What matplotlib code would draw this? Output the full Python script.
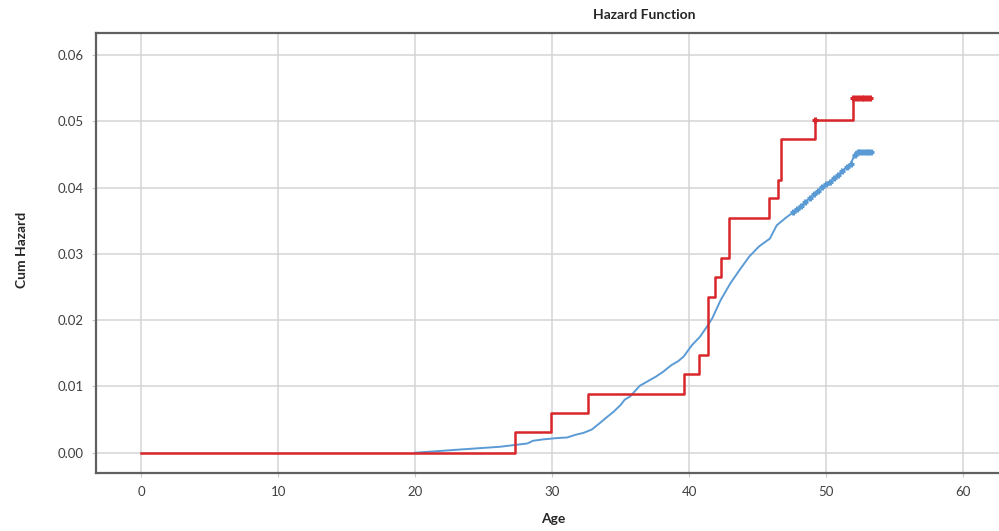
import numpy as np
import matplotlib.pyplot as plt

# cumulative hazard
red_age = [0, 27.3, 29.9, 32.6, 39.6, 40.7, 41.4, 41.9, 42.3, 42.9, 45.8, 46.5, 46.7, 49.2, 52.0, 53.3]
red_cum = [0, 0.0032, 0.0060, 0.0089, 0.0118, 0.0148, 0.0235, 0.0265, 0.0293, 0.0354,
           0.0384, 0.0411, 0.0473, 0.0502, 0.0535, 0.0535]

blue_age = [20.0, 23.4, 26.2, 28.2, 28.6, 29.3, 30.3, 31.1, 31.7, 32.3, 32.9, 33.5, 33.9, 34.5,
            35.0, 35.3, 35.7, 36.4, 37.0, 37.6, 38.1, 38.7, 39.2, 39.6, 40.2, 40.8, 41.3, 41.7,
            42.3, 43.0, 43.7, 44.4, 45.1, 45.9, 46.4, 47.1, 48.1, 48.8, 49.6, 50.3, 51.0, 51.8,
            52.2, 53.4]
blue_cum = [0, 0.0005, 0.0009, 0.0014, 0.0018, 0.0020, 0.0022, 0.0023, 0.0027, 0.0030, 0.0035,
            0.0045, 0.0052, 0.0062, 0.0072, 0.0080, 0.0085, 0.0101, 0.0108, 0.0115, 0.0122,
            0.0132, 0.0138, 0.0145, 0.0162, 0.0175, 0.0190, 0.0203, 0.0230, 0.0255, 0.0276,
            0.0296, 0.0311, 0.0323, 0.0343, 0.0355, 0.0370, 0.0384, 0.0399, 0.0409, 0.0421,
            0.0436, 0.0454, 0.0454]

# censored cases
red_cens = [49.2, 52.0, 52.2, 52.4, 52.6, 52.8, 53.0, 53.2]
blue_cens = [47.6, 47.9, 48.2, 48.5, 48.8, 49.1, 49.4, 49.7, 50.0, 50.3, 50.6, 50.9, 51.2, 51.5,
             51.8, 52.1, 52.3, 52.5, 52.7, 52.9, 53.1, 53.3]

x_ticks = [0, 10, 20, 30, 40, 50, 60]
y_ticks = [0.00, 0.01, 0.02, 0.03, 0.04, 0.05, 0.06]

red = '#d8262b'
blue = '#5b9bd5'
font = 'Lato'

fig = plt.figure(figsize=(9.99, 5.31), dpi=100)
ax = fig.add_axes([0.0961, 0.1092, 0.909, 0.8286])

# blue group has many tiny steps, drawn as a line through the read points
ax.plot(blue_age, blue_cum, color=blue, lw=1.4, zorder=3)
ax.plot(blue_cens, np.interp(blue_cens, blue_age, blue_cum), ls='none', marker='+',
        ms=5, mew=2.2, color=blue, zorder=3)

ax.plot(red_age, red_cum, drawstyle='steps-post', color=red, lw=1.8, zorder=4)
red_cens_y = np.array(red_cum)[np.searchsorted(red_age, red_cens, side='right') - 1]
ax.plot(red_cens, red_cens_y, ls='none', marker='+', ms=5, mew=2.2, color=red, zorder=4)

ax.set_xlim(-3.3, 63)
ax.set_ylim(-0.00306, 0.0633)
ax.set_xticks(x_ticks)
ax.set_yticks(y_ticks)
ax.set_xticklabels([str(v) for v in x_ticks], fontsize=9.5, color='#404040', family=font)
ax.set_yticklabels(['%.2f' % v for v in y_ticks], fontsize=9.5, color='#404040', family=font)
ax.tick_params(length=3, color='#c8c8c8', pad=6)
ax.grid(True, color='#d4d4d4', lw=1.1)
ax.set_axisbelow(True)
for s in ax.spines.values():
    s.set_color('#606060')
    s.set_linewidth(1.6)

fig.text(644 / 999, 1 - 15 / 531, 'Hazard Function', ha='center', va='center',
         fontsize=10, fontweight='bold', color='#262626', family=font)
fig.text(22 / 999, 1 - 250 / 531, 'Cum Hazard', ha='center', va='center', rotation=90,
         fontsize=10, fontweight='bold', color='#262626', family=font)
fig.text(553 / 999, 1 - 519 / 531, 'Age', ha='center', va='center',
         fontsize=10, fontweight='bold', color='#262626', family=font)

fig.savefig('out.png', dpi=100)
